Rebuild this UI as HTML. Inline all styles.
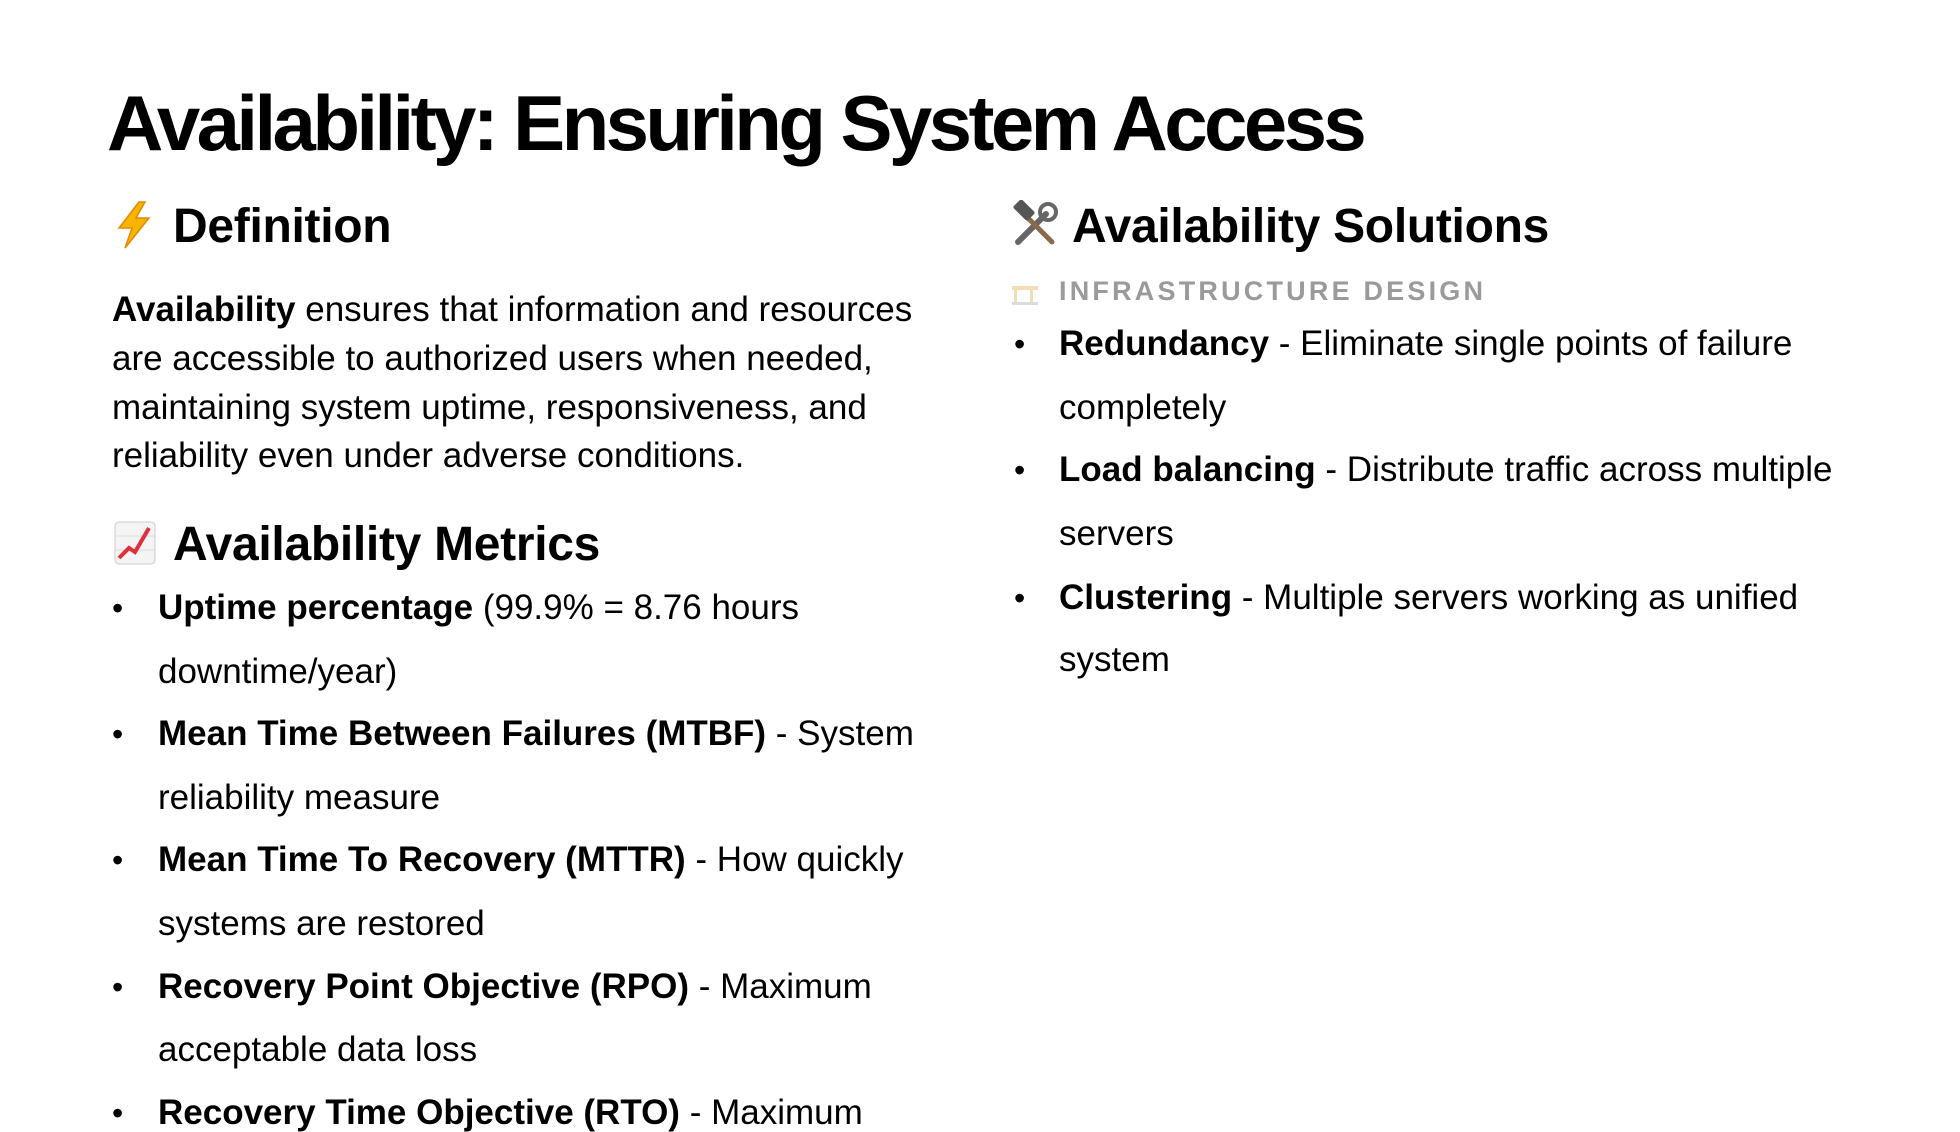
<!DOCTYPE html>
<html><head><meta charset="utf-8"><style>
body{margin:0;width:1960px;height:1104px;background:#fff;overflow:hidden;position:relative;font-family:"Liberation Sans",Arial,sans-serif;color:#000}
.a{position:absolute;white-space:nowrap;line-height:1}
.t{font-size:78px;font-weight:bold;letter-spacing:-3.6px}
.h{font-size:48px;font-weight:bold;letter-spacing:-0.3px}
.p{font-size:35px}
.d{font-size:32px}
b{font-weight:bold}
.s{font-size:27px;font-weight:bold;color:#9a9a9a;letter-spacing:3.2px}
</style></head><body>
<div class="a t" style="left:107px;top:84px">Availability: Ensuring System Access</div>

<svg class="a" style="left:113px;top:200px" width="42" height="50" viewBox="0 0 42 50"><polygon points="26,2 6,28 19,28 12,48 36,18 23,18 32,2" fill="#f7b500" stroke="#e08a00" stroke-width="1.5"/></svg>
<div class="a h" style="left:173px;top:203px">Definition</div>

<div class="a p" style="left:112px;top:292px"><b>Availability</b> ensures that information and resources</div>
<div class="a p" style="left:112px;top:341px">are accessible to authorized users when needed,</div>
<div class="a p" style="left:112px;top:390px">maintaining system uptime, responsiveness, and</div>
<div class="a p" style="left:112px;top:438px">reliability even under adverse conditions.</div>

<svg class="a" style="left:113px;top:520px" width="44" height="46" viewBox="0 0 44 46"><rect x="2" y="2" width="40" height="42" rx="4" fill="#f4f4f4" stroke="#ccc"/><line x1="2" y1="16" x2="42" y2="16" stroke="#ddd"/><line x1="2" y1="30" x2="42" y2="30" stroke="#ddd"/><polyline points="6,38 16,28 22,32 36,8" fill="none" stroke="#e0303a" stroke-width="4"/></svg>
<div class="a h" style="left:173px;top:521px">Availability Metrics</div>

<div class="a d" style="left:112px;top:592px">•</div><div class="a p" style="left:158px;top:590px"><b>Uptime percentage</b> (99.9% = 8.76 hours</div>
<div class="a p" style="left:158px;top:654px">downtime/year)</div>
<div class="a d" style="left:112px;top:718px">•</div><div class="a p" style="left:158px;top:716px"><b>Mean Time Between Failures (MTBF)</b> - System</div>
<div class="a p" style="left:158px;top:780px">reliability measure</div>
<div class="a d" style="left:112px;top:844px">•</div><div class="a p" style="left:158px;top:842px"><b>Mean Time To Recovery (MTTR)</b> - How quickly</div>
<div class="a p" style="left:158px;top:906px">systems are restored</div>
<div class="a d" style="left:112px;top:971px">•</div><div class="a p" style="left:158px;top:969px"><b>Recovery Point Objective (RPO)</b> - Maximum</div>
<div class="a p" style="left:158px;top:1032px">acceptable data loss</div>
<div class="a d" style="left:112px;top:1097px">•</div><div class="a p" style="left:158px;top:1095px"><b>Recovery Time Objective (RTO)</b> - Maximum</div>

<svg class="a" style="left:1010px;top:200px" width="50" height="50" viewBox="0 0 50 50"><line x1="8" y1="42" x2="36" y2="14" stroke="#666" stroke-width="6" stroke-linecap="round"/><line x1="42" y1="42" x2="16" y2="16" stroke="#8a6a4a" stroke-width="5" stroke-linecap="round"/><rect x="4" y="4" width="20" height="12" rx="2" transform="rotate(45 14 10)" fill="#555"/><circle cx="38" cy="12" r="8" fill="none" stroke="#666" stroke-width="4"/></svg>
<div class="a h" style="left:1072px;top:203px">Availability Solutions</div>

<svg class="a" style="left:1010px;top:280px" width="30" height="26" viewBox="0 0 30 26" opacity="0.35"><rect x="2" y="6" width="26" height="4" fill="#e0a030"/><rect x="4" y="10" width="3" height="14" fill="#e0a030"/><rect x="20" y="10" width="3" height="14" fill="#e0a030"/><rect x="2" y="22" width="26" height="3" fill="#999"/></svg>
<div class="a s" style="left:1059px;top:278px">INFRASTRUCTURE DESIGN</div>

<div class="a d" style="left:1014px;top:328px">•</div><div class="a p" style="left:1059px;top:326px"><b>Redundancy</b> - Eliminate single points of failure</div>
<div class="a p" style="left:1059px;top:390px">completely</div>
<div class="a d" style="left:1014px;top:454px">•</div><div class="a p" style="left:1059px;top:452px"><b>Load balancing</b> - Distribute traffic across multiple</div>
<div class="a p" style="left:1059px;top:516px">servers</div>
<div class="a d" style="left:1014px;top:582px">•</div><div class="a p" style="left:1059px;top:580px"><b>Clustering</b> - Multiple servers working as unified</div>
<div class="a p" style="left:1059px;top:642px">system</div>
</body></html>
